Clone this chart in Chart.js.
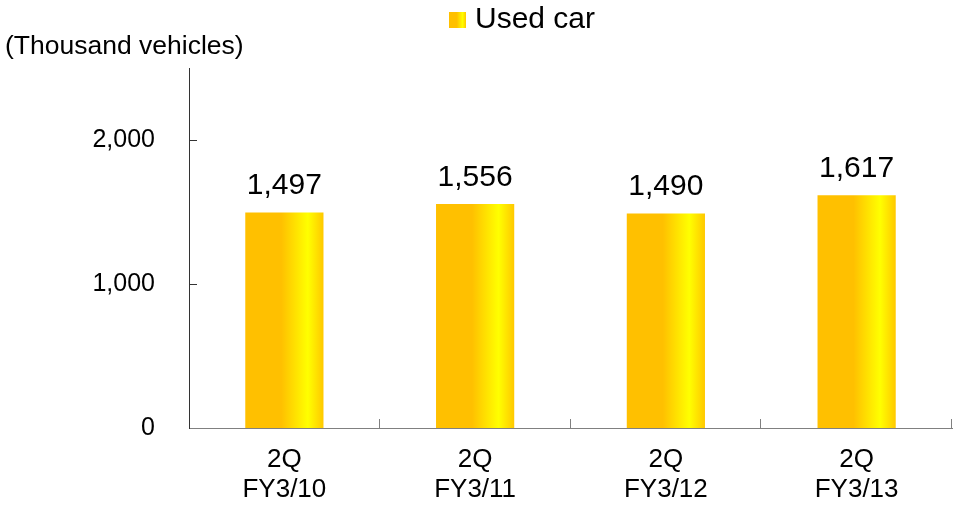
<!DOCTYPE html>
<html>
<head>
<meta charset="utf-8">
<script src="https://cdn.jsdelivr.net/npm/chart.js@4"></script>
<style>
  html, body { margin: 0; padding: 0; background: #ffffff; }
  #wrap { width: 961px; height: 505px; position: relative; }
</style>
</head>
<body>
<div id="wrap"><canvas id="c" width="961" height="505"></canvas></div>
<script>
// ---- data ----
const categories = [['2Q', 'FY3/10'], ['2Q', 'FY3/11'], ['2Q', 'FY3/12'], ['2Q', 'FY3/13']];
const usedCar = [1497, 1556, 1490, 1617];
const seriesName = 'Used car';
const unitLabel = '(Thousand vehicles)';
const yTickValues = [0, 1000, 2000];
const yTickLabels = ['0', '1,000', '2,000'];

// ---- styles ----
const FONT = '"Liberation Sans", Arial, sans-serif';
const ORANGE = '#FFC000';
const YELLOW = '#FFFF00';
const BAR_PCT = 0.41;

function barGradient(ctx, x0, x1) {
  const g = ctx.createLinearGradient(x0, 0, x1, 0);
  g.addColorStop(0, ORANGE);
  g.addColorStop(0.46, ORANGE);
  g.addColorStop(0.8, YELLOW);
  g.addColorStop(1, '#FFC800');
  return g;
}

const decorPlugin = {
  id: 'decor',
  afterDraw(chart) {
    const ctx = chart.ctx;
    const xs = chart.scales.x, ys = chart.scales.y;
    const area = chart.chartArea;
    ctx.save();
    // inward y ticks
    ctx.strokeStyle = '#333333';
    ctx.lineWidth = 1;
    yTickValues.forEach(v => {
      if (v === 0) return;
      const y = Math.round(ys.getPixelForValue(v)) + 0.5;
      ctx.beginPath();
      ctx.moveTo(area.left, y);
      ctx.lineTo(area.left + 8, y);
      ctx.stroke();
    });
    // upward category separators on x axis
    ctx.strokeStyle = '#808080';
    for (let i = 1; i <= categories.length; i++) {
      const x = i < categories.length
        ? (xs.getPixelForValue(i - 1) + xs.getPixelForValue(i)) / 2
        : area.right;
      const xx = Math.round(x) - 0.5;
      ctx.beginPath();
      ctx.moveTo(xx, area.bottom);
      ctx.lineTo(xx, area.bottom - 9);
      ctx.stroke();
    }
    // data labels
    const meta = chart.getDatasetMeta(0);
    ctx.fillStyle = '#000000';
    ctx.font = '30px ' + FONT;
    ctx.textAlign = 'center';
    ctx.textBaseline = 'alphabetic';
    meta.data.forEach((el, i) => {
      ctx.fillText(usedCar[i].toLocaleString('en-US'), el.x, el.y - 18);
    });
    // unit label
    ctx.font = '26.5px ' + FONT;
    ctx.textAlign = 'left';
    ctx.textBaseline = 'middle';
    ctx.fillText(unitLabel, 5, 47);
    // legend
    const sx = 449, sy = 12, sw = 17, sh = 16;
    ctx.fillStyle = barGradient(ctx, sx, sx + sw);
    ctx.fillRect(sx, sy, sw, sh);
    ctx.fillStyle = '#000000';
    ctx.font = '30px ' + FONT;
    ctx.fillText(chart.data.datasets[0].label, 475, 20);
    ctx.restore();
  }
};

new Chart(document.getElementById('c'), {
  type: 'bar',
  data: {
    labels: categories,
    datasets: [{
      label: seriesName,
      data: usedCar,
      barPercentage: BAR_PCT,
      categoryPercentage: 1.0,
      borderWidth: 0,
      backgroundColor: (c) => {
        const chart = c.chart;
        const xs = chart.scales && chart.scales.x;
        if (!xs || c.dataIndex === undefined || !chart.chartArea) return ORANGE;
        const half = xs.width / categories.length * BAR_PCT / 2;
        const cx = xs.getPixelForValue(c.dataIndex);
        return barGradient(chart.ctx, cx - half, cx + half);
      }
    }]
  },
  options: {
    responsive: false,
    animation: false,
    devicePixelRatio: 1,
    layout: { padding: { top: 68, right: 9, left: 0, bottom: 0 } },
    plugins: {
      legend: { display: false },
      tooltip: { enabled: false },
      title: { display: false }
    },
    scales: {
      x: {
        grid: { display: false, drawTicks: false },
        border: { display: true, color: '#808080', width: 1 },
        ticks: {
          color: '#000000',
          font: { family: FONT, size: 26, lineHeight: 1.15 },
          padding: 17,
          maxRotation: 0,
          autoSkip: false
        },
        afterFit(s) { s.height = 77; }
      },
      y: {
        min: 0,
        max: 2500,
        grid: { display: false, drawTicks: false },
        border: { display: true, color: '#333333', width: 1 },
        afterBuildTicks(s) { s.ticks = yTickValues.map(v => ({ value: v })); },
        ticks: {
          autoSkip: false,
          color: '#000000',
          font: { family: FONT, size: 25 },
          padding: 34,
          callback: (v, i) => yTickLabels[i]
        },
        afterFit(s) { s.width = 189; }
      }
    }
  },
  plugins: [decorPlugin]
});
</script>
</body>
</html>
